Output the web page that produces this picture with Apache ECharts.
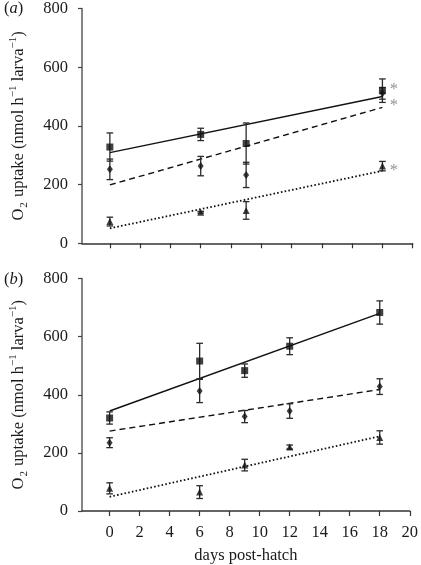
<!DOCTYPE html>
<html><head><meta charset="utf-8">
<script src="https://cdn.jsdelivr.net/npm/echarts@6/dist/echarts.min.js"></script>
<style>html,body{margin:0;padding:0;background:#fff}#c{width:421px;height:565px}</style>
</head><body><div id="c"></div>
<script>
// ---- data ----
const xTicks = [0, 2, 4, 6, 8, 10, 12, 14, 16, 18, 20];
const yTicks = [0, 200, 400, 600, 800];
// panel (a)
const daysA = [0, 6, 9, 18];
const aSquare = [328, 371, 340, 520];
const aSquareErr = [48, 21, 70, 40];
const aDiamond = [252, 263, 233, 511];
const aDiamondErr = [35, 33, 43, 20];
const aTriangle = [74, 106, 112, 263];
const aTriangleErr = [15, 3, 30, 16];
const fitDaysA = [0, 18];
const aFitSolid = [309, 500];
const aFitDashed = [199, 463];
const aFitDotted = [51, 247];
const aStarDay = 18.75;
const aStars = [522, 468, 248];
// panel (b)
const daysB = [0, 6, 9, 12, 18];
const bSquare = [320, 516, 483, 567, 683];
const bSquareErr = [21, 61, 23, 29, 40];
const bDiamond = [235, 413, 325, 344, 428];
const bDiamondErr = [17, 40, 21, 25, 27];
const bTriangle = [78, 65, 158, 220, 253];
const bTriangleErr = [19, 22, 20, 7, 23];
const fitDaysB = [0, 18];
const bFitSolid = [344, 680];
const bFitDashed = [275, 418];
const bFitDotted = [49, 257];

const FONT = 'Liberation Serif';
const INK = '#1a1a1a';

function pts(xs, ys) { return xs.map((x, i) => [x, ys[i]]); }

function errSeries(idx, xs, ys, es) {
  return {
    type: 'custom', xAxisIndex: idx, yAxisIndex: idx, z: 2, silent: true,
    data: xs.map((x, i) => [x, ys[i] - es[i], ys[i] + es[i]]),
    encode: { x: 0, y: [1, 2] },
    renderItem: function (params, api) {
      const x = api.value(0);
      const lo = api.coord([x, api.value(1)]);
      const hi = api.coord([x, api.value(2)]);
      const hw = 3.3;
      const st = { stroke: '#2a2a2a', lineWidth: 1.3 };
      return { type: 'group', children: [
        { type: 'line', shape: { x1: lo[0], y1: lo[1], x2: hi[0], y2: hi[1] }, style: st },
        { type: 'line', shape: { x1: lo[0] - hw, y1: lo[1], x2: lo[0] + hw, y2: lo[1] }, style: st },
        { type: 'line', shape: { x1: hi[0] - hw, y1: hi[1], x2: hi[0] + hw, y2: hi[1] }, style: st }
      ]};
    }
  };
}
function markSeries(idx, xs, ys, symbol, size) {
  return {
    type: 'scatter', xAxisIndex: idx, yAxisIndex: idx, z: 3, silent: true,
    symbol: symbol, symbolSize: size,
    itemStyle: { color: '#111' },
    data: pts(xs, ys)
  };
}
function fitSeries(idx, xs, ys, dash, width) {
  return {
    type: 'line', xAxisIndex: idx, yAxisIndex: idx, z: 1, silent: true,
    symbol: 'none', data: pts(xs, ys),
    lineStyle: { color: '#111', width: width, type: dash }
  };
}

const yName = '{n|O}{sub|2}{n| uptake (nmol h}{sup|−1}{n| larva}{sup|−1}{n|)}';
const nameStyle = {
  fontFamily: FONT, fontSize: 16.5, color: INK,
  rich: {
    n: { fontFamily: FONT, fontSize: 16.5, color: INK, lineHeight: 22 },
    sub: { fontFamily: FONT, fontSize: 11, color: INK, verticalAlign: 'bottom', lineHeight: 22, padding: [6, 1, 0, 1] },
    sup: { fontFamily: FONT, fontSize: 11, color: INK, verticalAlign: 'top', lineHeight: 22, padding: [0, 0, 8, 0] }
  }
};

function yAxis(idx) {
  return {
    gridIndex: idx, type: 'value', min: 0, max: 800, interval: 200,
    name: yName, nameLocation: 'middle', nameGap: 52, nameTextStyle: nameStyle,
    axisLine: { show: true, onZero: false, lineStyle: { color: '#666', width: 1.6 } },
    axisTick: { show: true, length: 4, lineStyle: { color: '#444', width: 1.2 } },
    axisLabel: { fontFamily: FONT, fontSize: 16.5, color: INK, margin: 14 },
    splitLine: { show: false }
  };
}
function xAxis(idx, showLabels) {
  return {
    gridIndex: idx, type: 'value', min: -1.84, max: 20,
    axisLine: { show: true, onZero: false, lineStyle: { color: '#333', width: 1.5 } },
    axisTick: { show: true, length: 5, customValues: xTicks, lineStyle: { color: '#333', width: 1.2 } },
    axisLabel: { show: showLabels, customValues: xTicks, fontFamily: FONT, fontSize: 16.5, color: INK, margin: 13 },
    splitLine: { show: false },
    name: showLabels ? 'days post-hatch' : '', nameLocation: 'middle', nameGap: 36,
    nameTextStyle: { fontFamily: FONT, fontSize: 16.5, color: INK }
  };
}

const chart = echarts.init(document.getElementById('c'), null, { renderer: 'canvas' });
chart.setOption({
  animation: false,
  backgroundColor: '#fff',
  grid: [
    { left: 76, top: 8.5, width: 336.7, height: 234.8 },
    { left: 76, top: 278.5, width: 336.7, height: 234.8 }
  ],
  xAxis: [xAxis(0, false), xAxis(1, true)],
  yAxis: [yAxis(0), yAxis(1)],
  graphic: [
    { type: 'text', left: 4, top: 0, style: { text: '{p|(}{i|a}{p|)}', rich: {
      p: { fontFamily: FONT, fontSize: 16.5, fill: INK }, i: { fontFamily: FONT, fontSize: 16.5, fontStyle: 'italic', fill: INK } } } },
    { type: 'text', left: 4, top: 271, style: { text: '{p|(}{i|b}{p|)}', rich: {
      p: { fontFamily: FONT, fontSize: 16.5, fill: INK }, i: { fontFamily: FONT, fontSize: 16.5, fontStyle: 'italic', fill: INK } } } }
  ],
  series: [
    fitSeries(0, fitDaysA, aFitSolid, 'solid', 1.4),
    fitSeries(0, fitDaysA, aFitDashed, [6, 4], 1.4),
    fitSeries(0, fitDaysA, aFitDotted, [1.6, 2.2], 1.8),
    errSeries(0, daysA, aSquare, aSquareErr),
    errSeries(0, daysA, aDiamond, aDiamondErr),
    errSeries(0, daysA, aTriangle, aTriangleErr),
    markSeries(0, daysA, aSquare, 'rect', 7),
    markSeries(0, daysA, aDiamond, 'diamond', [6, 8]),
    markSeries(0, daysA, aTriangle, 'triangle', [7, 7]),
    {
      type: 'scatter', xAxisIndex: 0, yAxisIndex: 0, z: 4, silent: true,
      symbolSize: 0, data: aStars.map(v => [aStarDay, v]),
      label: { show: true, position: 'inside', formatter: '*', fontFamily: FONT, fontSize: 16.5, color: '#777' }
    },
    fitSeries(1, fitDaysB, bFitSolid, 'solid', 1.4),
    fitSeries(1, fitDaysB, bFitDashed, [6, 4], 1.4),
    fitSeries(1, fitDaysB, bFitDotted, [1.6, 2.2], 1.8),
    errSeries(1, daysB, bSquare, bSquareErr),
    errSeries(1, daysB, bDiamond, bDiamondErr),
    errSeries(1, daysB, bTriangle, bTriangleErr),
    markSeries(1, daysB, bSquare, 'rect', 7),
    markSeries(1, daysB, bDiamond, 'diamond', [6, 8]),
    markSeries(1, daysB, bTriangle, 'triangle', [7, 7])
  ]
});
</script></body></html>
